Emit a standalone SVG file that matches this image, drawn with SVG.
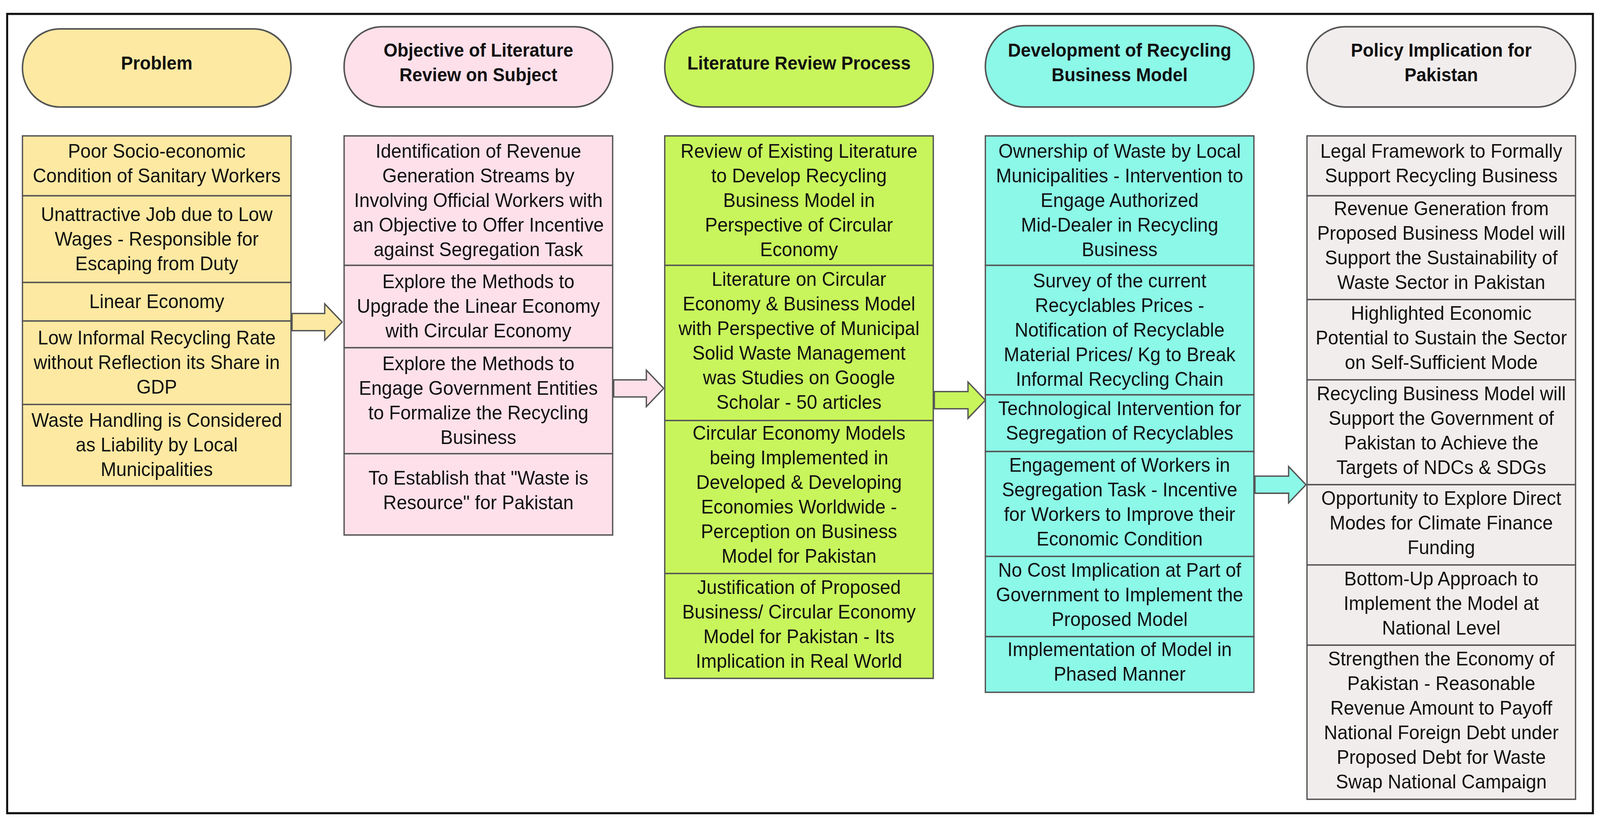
<svg xmlns="http://www.w3.org/2000/svg" width="4326" height="2128" viewBox="0 0 4326 2128">
<style>
text{font-family:"Liberation Sans",Arial,sans-serif;font-size:18.3px;fill:#111;text-anchor:middle}
.h{font-weight:bold;font-size:17.5px}
.c{stroke:#555;stroke-width:1.3}
.hd{stroke:#555;stroke-width:1.5}
.y{fill:#FDE9A2}.p{fill:#FEE0EA}.g{fill:#C8F55C}.t{fill:#8CF8E7}.s{fill:#F2EDED}
.ar{stroke:#555;stroke-width:1.3}
</style>
<rect width="4326" height="2128" fill="#fff"/>
<g transform="scale(2.614,2.74)">
<rect x="7" y="13" width="1553" height="747" fill="none" stroke="#111" stroke-width="2"/>
<g id="col1">
<rect class="hd y" x="22" y="27" width="263" height="73" rx="36.5"/>
<text class="h" x="153.5" y="65">Problem</text>
<rect class="c y" x="22" y="127" width="263" height="56"/>
<rect class="c y" x="22" y="183" width="263" height="81"/>
<rect class="c y" x="22" y="264" width="263" height="36"/>
<rect class="c y" x="22" y="300" width="263" height="78"/>
<rect class="c y" x="22" y="378" width="263" height="76"/>
<text x="153.5" y="147.5">Poor Socio-economic<tspan x="153.5" dy="23">Condition of Sanitary Workers</tspan></text>
<text x="153.5" y="206.5">Unattractive Job due to Low<tspan x="153.5" dy="23">Wages - Responsible for</tspan><tspan x="153.5" dy="23">Escaping from Duty</tspan></text>
<text x="153.5" y="288">Linear Economy</text>
<text x="153.5" y="322">Low Informal Recycling Rate<tspan x="153.5" dy="23">without Reflection its Share in</tspan><tspan x="153.5" dy="23">GDP</tspan></text>
<text x="153.5" y="399">Waste Handling is Considered<tspan x="153.5" dy="23">as Liability by Local</tspan><tspan x="153.5" dy="23">Municipalities</tspan></text>
</g>
<g id="col2">
<rect class="hd p" x="337" y="25" width="263" height="75" rx="37"/>
<text class="h" x="468.5" y="53">Objective of Literature<tspan x="468.5" dy="23">Review on Subject</tspan></text>
<rect class="c p" x="337" y="127" width="263" height="121"/>
<rect class="c p" x="337" y="248" width="263" height="77"/>
<rect class="c p" x="337" y="325" width="263" height="99"/>
<rect class="c p" x="337" y="424" width="263" height="76"/>
<text x="468.5" y="147.5">Identification of Revenue<tspan x="468.5" dy="23">Generation Streams by</tspan><tspan x="468.5" dy="23">Involving Official Workers with</tspan><tspan x="468.5" dy="23">an Objective to Offer Incentive</tspan><tspan x="468.5" dy="23">against Segregation Task</tspan></text>
<text x="468.5" y="269.5">Explore the Methods to<tspan x="468.5" dy="23">Upgrade the Linear Economy</tspan><tspan x="468.5" dy="23">with Circular Economy</tspan></text>
<text x="468.5" y="346">Explore the Methods to<tspan x="468.5" dy="23">Engage Government Entities</tspan><tspan x="468.5" dy="23">to Formalize the Recycling</tspan><tspan x="468.5" dy="23">Business</tspan></text>
<text x="468.5" y="453">To Establish that "Waste is<tspan x="468.5" dy="23">Resource" for Pakistan</tspan></text>
</g>
<g id="col3">
<rect class="hd g" x="651" y="25" width="263" height="75" rx="37"/>
<text class="h" x="782.5" y="65">Literature Review Process</text>
<rect class="c g" x="651" y="127" width="263" height="121"/>
<rect class="c g" x="651" y="248" width="263" height="145"/>
<rect class="c g" x="651" y="393" width="263" height="143"/>
<rect class="c g" x="651" y="536" width="263" height="98"/>
<text x="782.5" y="147.5">Review of Existing Literature<tspan x="782.5" dy="23">to Develop Recycling</tspan><tspan x="782.5" dy="23">Business Model in</tspan><tspan x="782.5" dy="23">Perspective of Circular</tspan><tspan x="782.5" dy="23">Economy</tspan></text>
<text x="782.5" y="267">Literature on Circular<tspan x="782.5" dy="23">Economy &amp; Business Model</tspan><tspan x="782.5" dy="23">with Perspective of Municipal</tspan><tspan x="782.5" dy="23">Solid Waste Management</tspan><tspan x="782.5" dy="23">was Studies on Google</tspan><tspan x="782.5" dy="23">Scholar - 50 articles</tspan></text>
<text x="782.5" y="411">Circular Economy Models<tspan x="782.5" dy="23">being Implemented in</tspan><tspan x="782.5" dy="23">Developed &amp; Developing</tspan><tspan x="782.5" dy="23">Economies Worldwide -</tspan><tspan x="782.5" dy="23">Perception on Business</tspan><tspan x="782.5" dy="23">Model for Pakistan</tspan></text>
<text x="782.5" y="555">Justification of Proposed<tspan x="782.5" dy="23">Business/ Circular Economy</tspan><tspan x="782.5" dy="23">Model for Pakistan - Its</tspan><tspan x="782.5" dy="23">Implication in Real World</tspan></text>
</g>
<g id="col4">
<rect class="hd t" x="965" y="24" width="263" height="76" rx="38"/>
<text class="h" x="1096.5" y="53">Development of Recycling<tspan x="1096.5" dy="23">Business Model</tspan></text>
<rect class="c t" x="965" y="127" width="263" height="121"/>
<rect class="c t" x="965" y="248" width="263" height="121"/>
<rect class="c t" x="965" y="369" width="263" height="53"/>
<rect class="c t" x="965" y="422" width="263" height="98"/>
<rect class="c t" x="965" y="520" width="263" height="75"/>
<rect class="c t" x="965" y="595" width="263" height="52"/>
<text x="1096.5" y="147.5">Ownership of Waste by Local<tspan x="1096.5" dy="23">Municipalities - Intervention to</tspan><tspan x="1096.5" dy="23">Engage Authorized</tspan><tspan x="1096.5" dy="23">Mid-Dealer in Recycling</tspan><tspan x="1096.5" dy="23">Business</tspan></text>
<text x="1096.5" y="268.5">Survey of the current<tspan x="1096.5" dy="23">Recyclables Prices -</tspan><tspan x="1096.5" dy="23">Notification of Recyclable</tspan><tspan x="1096.5" dy="23">Material Prices/ Kg to Break</tspan><tspan x="1096.5" dy="23">Informal Recycling Chain</tspan></text>
<text x="1096.5" y="388">Technological Intervention for<tspan x="1096.5" dy="23">Segregation of Recyclables</tspan></text>
<text x="1096.5" y="441">Engagement of Workers in<tspan x="1096.5" dy="23">Segregation Task - Incentive</tspan><tspan x="1096.5" dy="23">for Workers to Improve their</tspan><tspan x="1096.5" dy="23">Economic Condition</tspan></text>
<text x="1096.5" y="539">No Cost Implication at Part of<tspan x="1096.5" dy="23">Government to Implement the</tspan><tspan x="1096.5" dy="23">Proposed Model</tspan></text>
<text x="1096.5" y="613">Implementation of Model in<tspan x="1096.5" dy="23">Phased Manner</tspan></text>
</g>
<g id="col5">
<rect class="hd s" x="1280" y="25" width="263" height="75" rx="37"/>
<text class="h" x="1411.5" y="53">Policy Implication for<tspan x="1411.5" dy="23">Pakistan</tspan></text>
<rect class="c s" x="1280" y="127" width="263" height="56"/>
<rect class="c s" x="1280" y="183" width="263" height="97"/>
<rect class="c s" x="1280" y="280" width="263" height="75"/>
<rect class="c s" x="1280" y="355" width="263" height="98"/>
<rect class="c s" x="1280" y="453" width="263" height="75"/>
<rect class="c s" x="1280" y="528" width="263" height="75"/>
<rect class="c s" x="1280" y="603" width="263" height="144"/>
<text x="1411.5" y="147.5">Legal Framework to Formally<tspan x="1411.5" dy="23">Support Recycling Business</tspan></text>
<text x="1411.5" y="201">Revenue Generation from<tspan x="1411.5" dy="23">Proposed Business Model will</tspan><tspan x="1411.5" dy="23">Support the Sustainability of</tspan><tspan x="1411.5" dy="23">Waste Sector in Pakistan</tspan></text>
<text x="1411.5" y="299">Highlighted Economic<tspan x="1411.5" dy="23">Potential to Sustain the Sector</tspan><tspan x="1411.5" dy="23">on Self-Sufficient Mode</tspan></text>
<text x="1411.5" y="374">Recycling Business Model will<tspan x="1411.5" dy="23">Support the Government of</tspan><tspan x="1411.5" dy="23">Pakistan to Achieve the</tspan><tspan x="1411.5" dy="23">Targets of NDCs &amp; SDGs</tspan></text>
<text x="1411.5" y="472">Opportunity to Explore Direct<tspan x="1411.5" dy="23">Modes for Climate Finance</tspan><tspan x="1411.5" dy="23">Funding</tspan></text>
<text x="1411.5" y="547">Bottom-Up Approach to<tspan x="1411.5" dy="23">Implement the Model at</tspan><tspan x="1411.5" dy="23">National Level</tspan></text>
<text x="1411.5" y="622">Strengthen the Economy of<tspan x="1411.5" dy="23">Pakistan - Reasonable</tspan><tspan x="1411.5" dy="23">Revenue Amount to Payoff</tspan><tspan x="1411.5" dy="23">National Foreign Debt under</tspan><tspan x="1411.5" dy="23">Proposed Debt for Waste</tspan><tspan x="1411.5" dy="23">Swap National Campaign</tspan></text>
</g>
<g id="connectors">
<polygon class="ar y" points="286,293 318,293 318,284 335,301 318,318 318,309 286,309"/>
<polygon class="ar p" points="601,355 633,355 633,346 650,363 633,380 633,371 601,371"/>
<polygon class="ar g" points="915,366 948,366 948,357 965,374 948,391 948,382 915,382"/>
<polygon class="ar t" points="1229,445 1262,445 1262,436 1279,453 1262,470 1262,461 1229,461"/>
</g>
</g>
</svg>
